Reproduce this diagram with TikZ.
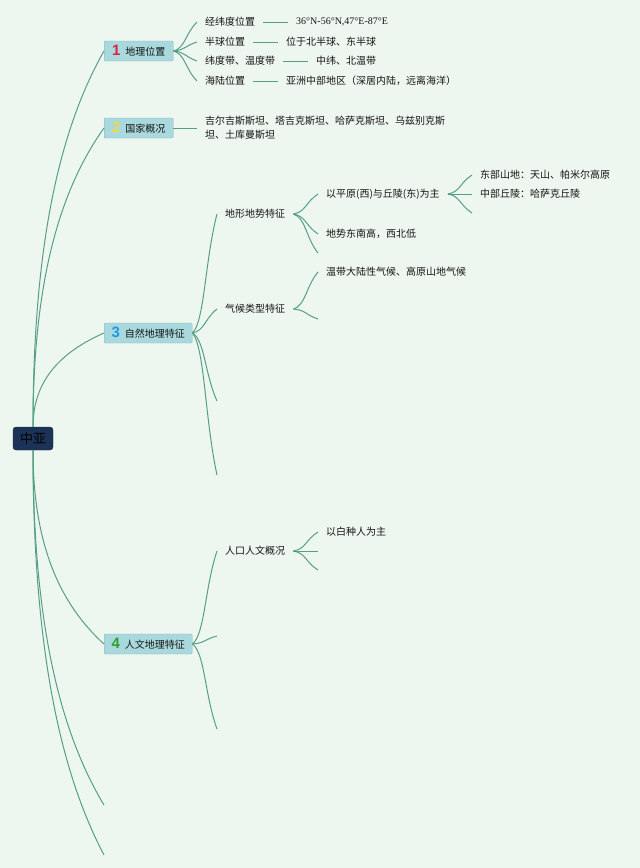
\documentclass[tikz,border=0pt]{standalone}
\usepackage{fontspec}
\setmainfont{Noto Sans CJK SC}
\newfontfamily\numfont{Liberation Sans}
\newfontfamily\serifnum{Liberation Serif}
\usetikzlibrary{calc}
\definecolor{bg}{HTML}{EEF6F0}
\definecolor{ln}{HTML}{55A085}
\definecolor{boxfill}{HTML}{A9D9DD}
\definecolor{boxline}{HTML}{86B9BF}
\definecolor{rootfill}{HTML}{1C3358}
\definecolor{rootline}{HTML}{15294A}
\definecolor{txtc}{HTML}{151515}
\definecolor{nred}{HTML}{E0204A}
\definecolor{nyellow}{HTML}{F2D64B}
\definecolor{nblue}{HTML}{1A9AE0}
\definecolor{ngreen}{HTML}{2AA02A}
\newcommand{\topicnum}[2]{{\numfont\bfseries\fontsize{15}{15}\selectfont\color{#1}#2}\hspace{5pt}}
\tikzset{
  rootbox/.style={draw=rootline, fill=rootfill, rounded corners=3pt, minimum width=40pt, minimum height=23pt, inner sep=0pt, font=\fontsize{13}{13}\selectfont, text=black},
  topic/.style={draw=boxline, fill=boxfill, rounded corners=1pt, minimum height=20pt, inner xsep=6pt, inner ysep=0pt, anchor=west, font=\fontsize{10}{12}\selectfont, text=txtc},
  txt/.style={anchor=west, inner xsep=8pt, inner ysep=2pt, font=\fontsize{10}{12}\selectfont, text=txtc},
  conn/.style={draw=ln, line width=1pt},
  rootcurve/.style={to path={let \p1=(\tikztostart), \p2=(\tikztotarget) in
     .. controls (\x1, {\y1+0.5*(\y2-\y1)}) and ({\x1+0.4*(\x2-\x1)}, {\y1+0.8*(\y2-\y1)}) .. (\tikztotarget)}},
  subcurve/.style={to path={let \p1=(\tikztostart), \p2=(\tikztotarget) in
     .. controls ({\x1+0.5*(\x2-\x1)}, {\y1+0.1*(\y2-\y1)}) and ({\x1+0.5*(\x2-\x1)}, {\y1+0.6*(\y2-\y1)}) .. (\tikztotarget)}},
}
\begin{document}
\begin{tikzpicture}[x=1pt, y=-1pt]
\useasboundingbox (0,0) rectangle (640,868);
\fill[bg] (0,0) rectangle (640,868);

% root and main topics
\node[rootbox] (root) at (33,438.5) {中亚};
\node[topic, minimum width=69pt] (b1) at (104,51) {\topicnum{nred}{1}地理位置};
\node[topic, minimum width=69pt] (b2) at (104,128) {\topicnum{nyellow}{2}国家概况};
\node[topic, minimum width=88pt] (b3) at (104,333) {\topicnum{nblue}{3}自然地理特征};
\node[topic, minimum width=88pt] (b4) at (104,644) {\topicnum{ngreen}{4}人文地理特征};
\coordinate (r5) at (104,805);
\coordinate (r6) at (104,855);

% topic 1
\node[txt] (t11) at (197,22) {经纬度位置};
\node[txt] (t11v) at (288,22) {\serifnum 36°N-56°N,47°E-87°E};
\node[txt] (t12) at (197,42) {半球位置};
\node[txt] (t12v) at (278,42) {位于北半球、东半球};
\node[txt] (t13) at (197,61) {纬度带、温度带};
\node[txt] (t13v) at (308,61) {中纬、北温带};
\node[txt] (t14) at (197,81) {海陆位置};
\node[txt] (t14v) at (278,81) {亚洲中部地区（深居内陆，远离海洋）};

% topic 2
\node[txt, align=left, font=\fontsize{10}{14}\selectfont] (t2) at (197,128) {吉尔吉斯斯坦、塔吉克斯坦、哈萨克斯坦、乌兹别克斯\\坦、土库曼斯坦};

% topic 3
\node[txt] (t31) at (217,214) {地形地势特征};
\node[txt] (t32) at (217,309) {气候类型特征};
\coordinate (c33) at (217,401);
\coordinate (c34) at (217,475);
\node[txt] (t311) at (318,194) {以平原(西)与丘陵(东)为主};
\node[txt] (t312) at (318,234) {地势东南高，西北低};
\coordinate (c313) at (318,253);
\node[txt] (t3111) at (472,175) {东部山地：天山、帕米尔高原};
\node[txt] (t3112) at (472,194) {中部丘陵：哈萨克丘陵};
\coordinate (c3113) at (472,213);
\node[txt] (t321) at (318,272) {温带大陆性气候、高原山地气候};
\coordinate (c322) at (318,319);

% topic 4
\node[txt] (t41) at (217,551) {人口人文概况};
\coordinate (c42) at (217,636);
\coordinate (c43) at (217,729);
\node[txt] (t411) at (318,532) {以白种人为主};
\coordinate (c412) at (318,551);
\coordinate (c413) at (318,570);

% root connectors
\draw[conn] (root.north) to[rootcurve] (b1.west);
\draw[conn] (root.north) to[rootcurve] (b2.west);
\draw[conn] (root.north) to[rootcurve] (b3.west);
\draw[conn] (root.south) to[rootcurve] (b4.west);
\draw[conn] (root.south) to[rootcurve] (r5);
\draw[conn] (root.south) to[rootcurve] (r6);

% topic 1 connectors
\foreach \c in {t11,t12,t13,t14}{\draw[conn] (b1.east) to[subcurve] (\c.west);}
\draw[conn] (t11.east) -- (t11v.west);
\draw[conn] (t12.east) -- (t12v.west);
\draw[conn] (t13.east) -- (t13v.west);
\draw[conn] (t14.east) -- (t14v.west);

% topic 2
\draw[conn] (b2.east) -- (t2.west);

% topic 3
\draw[conn] (b3.east) to[subcurve] (t31.west);
\draw[conn] (b3.east) to[subcurve] (t32.west);
\draw[conn] (b3.east) to[subcurve] (c33);
\draw[conn] (b3.east) to[subcurve] (c34);
\draw[conn] (t31.east) to[subcurve] (t311.west);
\draw[conn] (t31.east) to[subcurve] (t312.west);
\draw[conn] (t31.east) to[subcurve] (c313);
\draw[conn] (t311.east) to[subcurve] (t3111.west);
\draw[conn] (t311.east) to[subcurve] (t3112.west);
\draw[conn] (t311.east) to[subcurve] (c3113);
\draw[conn] (t32.east) to[subcurve] (t321.west);
\draw[conn] (t32.east) to[subcurve] (c322);

% topic 4
\draw[conn] (b4.east) to[subcurve] (t41.west);
\draw[conn] (b4.east) to[subcurve] (c42);
\draw[conn] (b4.east) to[subcurve] (c43);
\draw[conn] (t41.east) to[subcurve] (t411.west);
\draw[conn] (t41.east) to[subcurve] (c412);
\draw[conn] (t41.east) to[subcurve] (c413);
\end{tikzpicture}
\end{document}
